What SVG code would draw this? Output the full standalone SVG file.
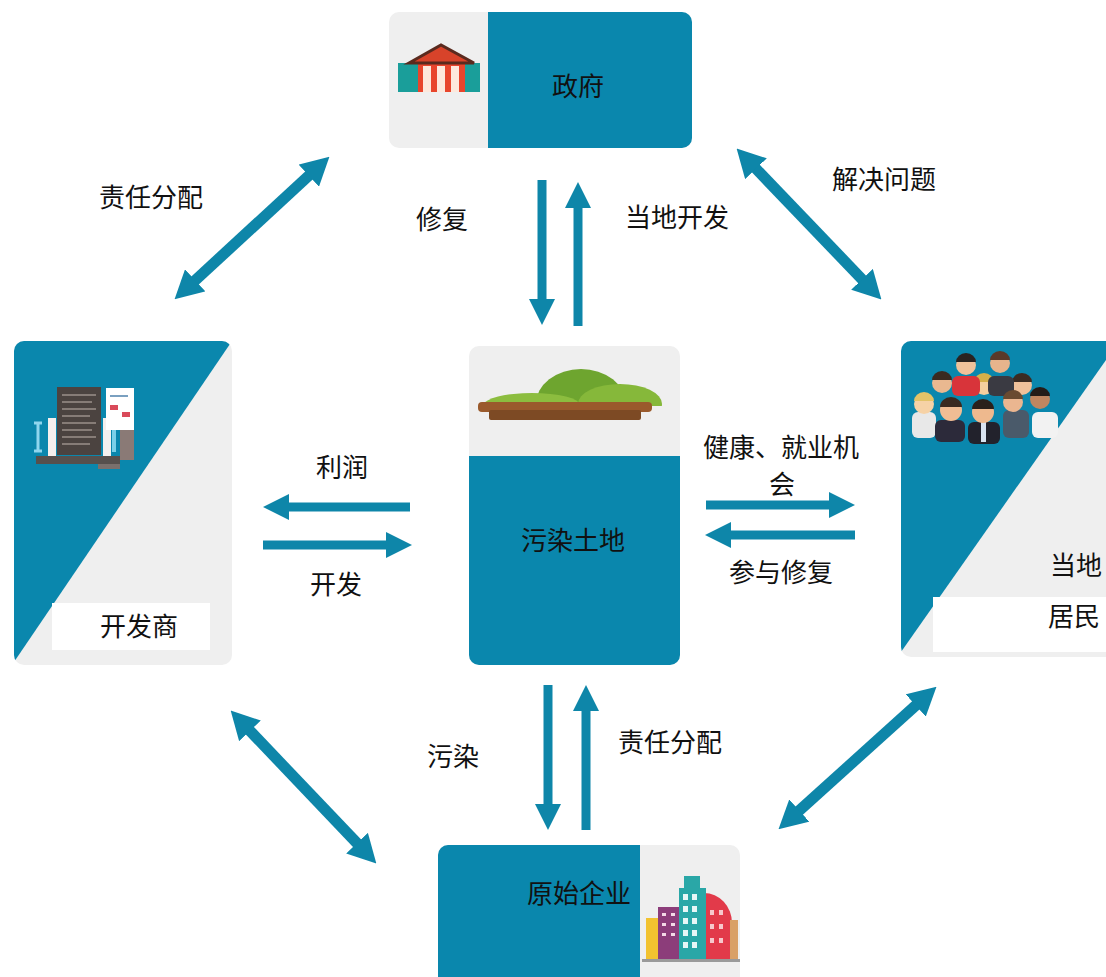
<svg xmlns="http://www.w3.org/2000/svg" width="1106" height="977" viewBox="0 0 1106 977">
  <style>
    .teal { fill: #0a87ad; }
    .pale { fill: #efefef; }
    .lbl { font-family: "Noto Sans CJK SC", "Liberation Sans", sans-serif; font-size: 26px; fill: #111; text-anchor: middle; }
    .box { fill: #ffffff; }
    .arr { stroke: #0e86a9; stroke-width: 9; fill: none; marker-end: url(#head); }
    .arr2 { stroke: #0e86a9; stroke-width: 11; fill: none; marker-start: url(#headBig); marker-end: url(#headBig); }
  </style>
  <defs>
    <marker id="head" markerUnits="userSpaceOnUse" viewBox="0 0 26 26" refX="2" refY="13" markerWidth="26" markerHeight="26" orient="auto-start-reverse">
      <path d="M0,0 L26,13 L0,26 z" fill="#0e86a9"/>
    </marker>
    <marker id="headBig" markerUnits="userSpaceOnUse" viewBox="0 0 28 30" refX="2" refY="15" markerWidth="28" markerHeight="30" orient="auto-start-reverse">
      <path d="M0,0 L28,15 L0,30 z" fill="#0e86a9"/>
    </marker>
    <clipPath id="clipLeft"><rect x="14" y="341" width="218" height="324" rx="10"/></clipPath>
    <clipPath id="clipRight"><rect x="901" y="341" width="220" height="316" rx="10"/></clipPath>
    <clipPath id="clipHill"><rect x="470" y="340" width="210" height="66"/></clipPath>
  </defs>

  <rect width="1106" height="977" fill="#ffffff"/>

  <!-- Government -->
  <g id="node-government">
    <rect class="pale" x="389" y="12" width="303" height="136" rx="10"/>
    <path class="teal" d="M488,12 H682 a10,10 0 0 1 10,10 V138 a10,10 0 0 1 -10,10 H488 Z"/>
    <rect x="398" y="63" width="82" height="29" fill="#1a9e9a"/>
    <rect x="418" y="60" width="47" height="32" fill="#e8452c"/>
    <polygon points="409,63 441,45 474,63" fill="#d8432a" stroke="#5a2a1e" stroke-width="3"/>
    <rect x="423" y="66" width="8" height="26" fill="#fde8dc"/>
    <rect x="437" y="66" width="8" height="26" fill="#fde8dc"/>
    <rect x="451" y="66" width="8" height="26" fill="#fde8dc"/>
    <text class="lbl" x="578" y="96">政府</text>
  </g>

  <!-- Developer -->
  <g id="node-developer">
    <rect class="pale" x="14" y="341" width="218" height="324" rx="10"/>
    <polygon class="teal" clip-path="url(#clipLeft)" points="14,341 232,341 14,662"/>
    <rect x="57" y="387" width="44" height="68" fill="#4b4340"/>
    <g stroke="#9a8f8a" stroke-width="1.5">
      <line x1="62" y1="395" x2="96" y2="395"/><line x1="62" y1="402" x2="92" y2="402"/>
      <line x1="62" y1="409" x2="96" y2="409"/><line x1="62" y1="416" x2="90" y2="416"/>
      <line x1="62" y1="423" x2="96" y2="423"/><line x1="62" y1="430" x2="92" y2="430"/>
      <line x1="62" y1="437" x2="96" y2="437"/><line x1="62" y1="444" x2="90" y2="444"/>
    </g>
    <rect x="48" y="418" width="8" height="38" fill="#f4f0ee"/>
    <rect x="103" y="418" width="8" height="38" fill="#f4f0ee"/>
    <rect x="106" y="388" width="28" height="42" fill="#ffffff"/>
    <rect x="110" y="405" width="8" height="5" fill="#d94a5a"/>
    <rect x="122" y="412" width="8" height="5" fill="#d94a5a"/>
    <rect x="110" y="395" width="18" height="2" fill="#7aa0c0"/>
    <rect x="112" y="430" width="4" height="22" fill="#7ad0e8"/>
    <rect x="120" y="430" width="14" height="30" fill="#8a7a76"/>
    <path d="M34,423 h8 M38,423 v28 M34,451 h8" stroke="#8fd6ee" stroke-width="3" fill="none"/>
    <rect x="36" y="456" width="84" height="8" fill="#56504d"/>
    <rect x="98" y="464" width="22" height="5" fill="#7a706c"/>
    <rect class="box" x="52" y="603" width="158" height="47"/>
    <text class="lbl" x="139" y="636">开发商</text>
  </g>

  <!-- Contaminated land -->
  <g id="node-land">
    <rect class="pale" x="469" y="346" width="211" height="319" rx="10"/>
    <path class="teal" d="M469,456 H680 V655 a10,10 0 0 1 -10,10 H479 a10,10 0 0 1 -10,-10 Z"/>
    <g clip-path="url(#clipHill)">
      <ellipse cx="581" cy="404" rx="45" ry="35" fill="#6ea52f"/>
      <ellipse cx="532" cy="405" rx="48" ry="12" fill="#8cbd3f"/>
      <ellipse cx="620" cy="404" rx="42" ry="20" fill="#86b83a"/>
    </g>
    <rect x="478" y="402" width="174" height="10" rx="4" fill="#9a5a2c"/>
    <rect x="489" y="410" width="152" height="10" rx="2" fill="#7d4a24"/>
    <text class="lbl" x="573" y="550">污染土地</text>
  </g>

  <!-- Local residents -->
  <g id="node-residents">
    <rect class="pale" x="901" y="341" width="220" height="316" rx="10"/>
    <polygon class="teal" clip-path="url(#clipRight)" points="901,341 1106,341 1106,360 901,652"/>
    <!-- back row -->
    <g>
      <circle cx="966" cy="365" r="10" fill="#f0c29a"/><path d="M956,362 a10,9 0 0 1 20,0 Z" fill="#2a2320"/>
      <circle cx="1000" cy="363" r="10" fill="#e6b48c"/><path d="M990,360 a10,9 0 0 1 20,0 Z" fill="#5a3a2a"/>
      <circle cx="942" cy="383" r="10" fill="#e9b890"/><path d="M932,380 a10,9 0 0 1 20,0 Z" fill="#3a2a20"/>
      <circle cx="984" cy="385" r="10" fill="#f4cf9e"/><path d="M974,382 a10,9 0 0 1 20,0 Z" fill="#d6b04a"/>
      <circle cx="1022" cy="385" r="10" fill="#efc09a"/><path d="M1012,382 a10,9 0 0 1 20,0 Z" fill="#3b2b22"/>
      <rect x="952" y="376" width="28" height="20" rx="6" fill="#d8343a"/>
      <rect x="988" y="376" width="26" height="20" rx="6" fill="#3a3a42"/>
    </g>
    <!-- middle row -->
    <g>
      <rect x="912" y="412" width="24" height="26" rx="6" fill="#e8e8e8"/>
      <circle cx="924" cy="404" r="10" fill="#f6d2a6"/><path d="M914,401 a10,9 0 0 1 20,0 Z" fill="#e3c368"/>
      <rect x="1032" y="412" width="26" height="26" rx="6" fill="#f2f2f2"/>
      <circle cx="1040" cy="399" r="10" fill="#c08660"/><path d="M1030,396 a10,9 0 0 1 20,0 Z" fill="#241c18"/>
      <rect x="1003" y="410" width="26" height="28" rx="6" fill="#4a5a6a"/>
      <circle cx="1013" cy="402" r="10" fill="#eab690"/><path d="M1003,399 a10,9 0 0 1 20,0 Z" fill="#6a4a30"/>
    </g>
    <!-- front row -->
    <g>
      <rect x="935" y="420" width="30" height="22" rx="6" fill="#2c2a3a"/>
      <circle cx="951" cy="410" r="11" fill="#f0bd94"/><path d="M940,407 a11,10 0 0 1 22,0 Z" fill="#3a2a20"/>
      <rect x="968" y="422" width="32" height="22" rx="6" fill="#22222c"/>
      <rect x="981" y="422" width="5" height="20" fill="#d9e3f0"/>
      <circle cx="983" cy="412" r="11" fill="#eeb98e"/><path d="M972,409 a11,10 0 0 1 22,0 Z" fill="#2a201a"/>
    </g>
    <text class="lbl" x="1076" y="575">当地</text>
    <rect class="box" x="933" y="597" width="173" height="55"/>
    <text class="lbl" x="1074" y="626">居民</text>
  </g>

  <!-- Original enterprise -->
  <g id="node-enterprise">
    <rect class="pale" x="438" y="845" width="302" height="150" rx="10"/>
    <path class="teal" d="M448,845 H640 V995 H438 V855 a10,10 0 0 1 10,-10 Z"/>
    <rect x="646" y="918" width="12" height="42" fill="#f2c230"/>
    <rect x="658" y="907" width="22" height="53" fill="#8c3d7a"/>
    <g fill="#f3d9e6"><rect x="662" y="913" width="4" height="3"/><rect x="671" y="913" width="4" height="3"/><rect x="662" y="923" width="4" height="3"/><rect x="671" y="923" width="4" height="3"/><rect x="662" y="933" width="4" height="3"/><rect x="671" y="933" width="4" height="3"/></g>
    <path d="M704,960 V893 a28,30 0 0 1 28,30 V960 Z" fill="#e23a4a"/>
    <rect x="679" y="888" width="27" height="72" fill="#2aa7a7"/>
    <rect x="684" y="876" width="16" height="12" fill="#2aa7a7"/>
    <g fill="#e8f6f6">
      <rect x="683" y="894" width="5" height="6"/><rect x="692" y="894" width="5" height="6"/>
      <rect x="683" y="906" width="5" height="6"/><rect x="692" y="906" width="5" height="6"/>
      <rect x="683" y="918" width="5" height="6"/><rect x="692" y="918" width="5" height="6"/>
      <rect x="683" y="930" width="5" height="6"/><rect x="692" y="930" width="5" height="6"/>
      <rect x="683" y="942" width="5" height="6"/><rect x="692" y="942" width="5" height="6"/>
    </g>
    <g fill="#f6c8cc"><rect x="710" y="910" width="4" height="5"/><rect x="719" y="910" width="4" height="5"/><rect x="710" y="924" width="4" height="5"/><rect x="719" y="924" width="4" height="5"/><rect x="710" y="938" width="4" height="5"/><rect x="719" y="938" width="4" height="5"/></g>
    <rect x="730" y="920" width="8" height="40" fill="#d9a066"/>
    <rect x="642" y="959" width="98" height="3" fill="#9a9a9a"/>
    <text class="lbl" x="579" y="903">原始企业</text>
  </g>

  <!-- Connectors -->
  <g id="connectors">
    <line class="arr" x1="542" y1="180" x2="542" y2="301"/>
    <line class="arr" x1="578" y1="326" x2="578" y2="206"/>
    <line class="arr2" x1="310.3" y1="174.3" x2="193.7" y2="281.7"/>
    <line class="arr2" x1="754.6" y1="167.3" x2="863.4" y2="280.7"/>
    <line class="arr" x1="410" y1="507" x2="287" y2="507"/>
    <line class="arr" x1="263" y1="545" x2="388" y2="545"/>
    <line class="arr" x1="706" y1="505" x2="831" y2="505"/>
    <line class="arr" x1="855" y1="535" x2="729" y2="535"/>
    <line class="arr" x1="548" y1="685" x2="548" y2="806"/>
    <line class="arr" x1="586" y1="830" x2="586" y2="709"/>
    <line class="arr2" x1="248.6" y1="729.4" x2="358.4" y2="844.6"/>
    <line class="arr2" x1="917.2" y1="704.1" x2="797.8" y2="811.9"/>
  </g>

  <!-- Connector labels -->
  <g id="labels">
    <text class="lbl" x="151" y="207">责任分配</text>
    <text class="lbl" x="884" y="189">解决问题</text>
    <text class="lbl" x="442" y="229">修复</text>
    <text class="lbl" x="677" y="227">当地开发</text>
    <text class="lbl" x="342" y="477">利润</text>
    <text class="lbl" x="336" y="594">开发</text>
    <text class="lbl" x="781" y="457">健康、就业机</text>
    <text class="lbl" x="782" y="494">会</text>
    <text class="lbl" x="781" y="582">参与修复</text>
    <text class="lbl" x="453" y="766">污染</text>
    <text class="lbl" x="670" y="752">责任分配</text>
  </g>
</svg>
